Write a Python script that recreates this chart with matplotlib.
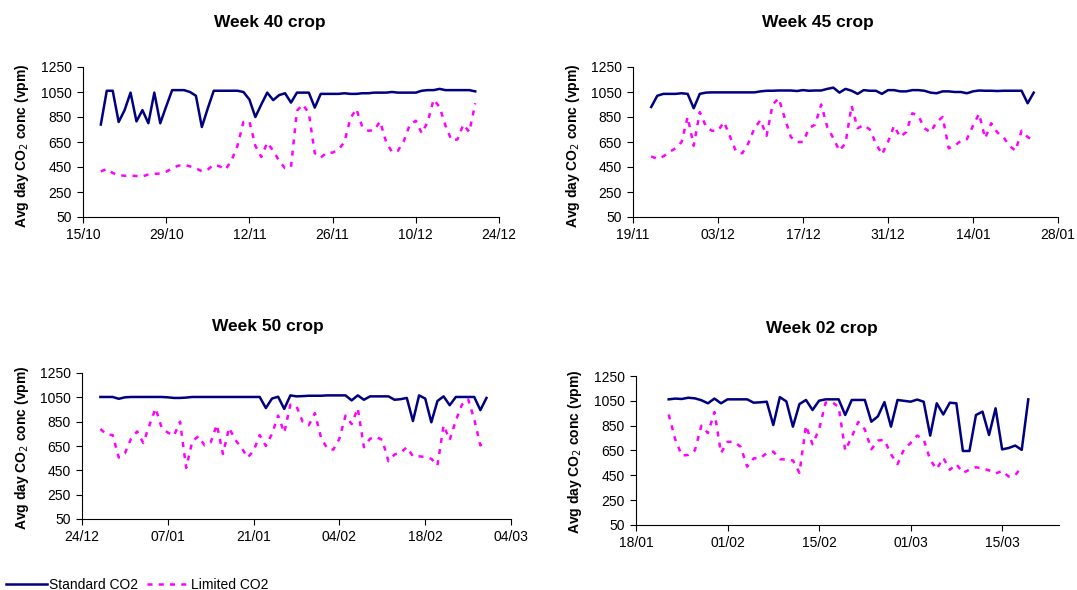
import numpy as np
import matplotlib
matplotlib.use("Agg")
import matplotlib.pyplot as plt
import matplotlib.dates as mdates

plt.rcParams['font.family'] = ['Liberation Sans', 'DejaVu Sans']

# ---- data (daily averages, vpm) ----
titles = ['Week 40 crop', 'Week 45 crop', 'Week 50 crop', 'Week 02 crop']
axis_start = ['2006-10-15', '2006-11-19', '2006-12-24', '2007-01-18']
first_day = ['2006-10-18', '2006-11-22', '2006-12-27', '2007-01-23']

std_w40 = [790, 1060, 1060, 810, 905, 1045, 815, 905,
           800, 1045, 800, 935, 1065, 1065, 1065, 1050,
           1020, 770, 920, 1060, 1060, 1060, 1060, 1060,
           1050, 990, 850, 950, 1045, 985, 1025, 1040,
           965, 1045, 1045, 1045, 925, 1035, 1035, 1035,
           1035, 1040, 1035, 1035, 1040, 1040, 1045, 1045,
           1045, 1050, 1045, 1045, 1045, 1045, 1060, 1065,
           1065, 1075, 1065, 1065, 1065, 1065, 1065, 1055]
lim_w40 = [415, 434, 402, 385, 380, 380, 378, 375,
           390, 395, 398, 412, 440, 460, 468, 455,
           440, 415, 430, 468, 455, 430, 505, 620,
           810, 815, 620, 530, 645, 580, 500, 440,
           450, 900, 950, 880, 560, 525, 565, 565,
           590, 650, 840, 915, 770, 740, 745, 815,
           650, 570, 580, 660, 790, 820, 720, 810,
           990, 930, 780, 665, 670, 790, 730, 960]

std_w45 = [930, 1020, 1035, 1035, 1035, 1040, 1035, 920,
           1035, 1045, 1047, 1047, 1047, 1047, 1047, 1047,
           1047, 1047, 1055, 1060, 1060, 1062, 1062, 1062,
           1058, 1065, 1060, 1062, 1062, 1075, 1085, 1045,
           1075, 1060, 1035, 1065, 1060, 1060, 1035, 1065,
           1065, 1055, 1055, 1065, 1065, 1060, 1045, 1040,
           1055, 1055, 1050, 1050, 1040, 1055, 1062, 1060,
           1060, 1058, 1060, 1060, 1060, 1060, 960, 1045]
lim_w45 = [535, 515, 535, 570, 600, 650, 850, 620,
           890, 776, 740, 740, 810, 690, 570, 560,
           640, 760, 825, 700, 950, 1000, 840, 690,
           650, 650, 760, 790, 950, 770, 680, 580,
           640, 940, 760, 786, 750, 640, 550, 650,
           780, 690, 730, 880, 860, 760, 727, 810,
           850, 600, 620, 660, 673, 780, 876, 680,
           800, 727, 690, 620, 580, 740, 690, 660]

std_w50 = [1053, 1053, 1053, 1038, 1050, 1053, 1053, 1053,
           1053, 1053, 1053, 1050, 1045, 1045, 1048, 1053,
           1053, 1053, 1053, 1053, 1053, 1053, 1053, 1053,
           1053, 1053, 1053, 962, 1040, 1055, 955, 1066,
           1058, 1060, 1063, 1063, 1063, 1066, 1066, 1066,
           1066, 1025, 1066, 1030, 1058, 1058, 1058, 1058,
           1030, 1035, 1045, 855, 1066, 1040, 845, 1020,
           1058, 985, 1053, 1053, 1053, 1053, 945, 1045]
lim_w50 = [790, 745, 740, 555, 590, 710, 770, 675,
           820, 960, 800, 760, 735, 850, 470, 690,
           730, 655, 680, 825, 585, 800, 700, 640,
           555, 610, 740, 650, 750, 900, 760, 990,
           976, 850, 820, 920, 720, 630, 620, 710,
           900, 830, 960, 640, 710, 725, 700, 525,
           580, 595, 640, 565, 565, 560, 545, 490,
           820, 700, 860, 990, 1035, 870, 655, 690]

std_w02 = [1062, 1068, 1065, 1075, 1070, 1055, 1030, 1068,
           1030, 1062, 1062, 1062, 1062, 1035, 1038, 1043,
           855, 1080, 1045, 842, 1024, 1057, 976, 1051,
           1062, 1062, 1062, 936, 1057, 1057, 1057, 882,
           925, 1040, 842, 1057, 1050, 1043, 1060, 1043,
           770, 1030, 940, 1035, 1030, 646, 646, 936,
           963, 775, 990, 659, 670, 690, 655, 1062]
lim_w02 = [940, 740, 610, 614, 650, 850, 790, 960,
           630, 720, 720, 680, 520, 587, 587, 630,
           641, 580, 577, 570, 470, 850, 700, 820,
           1035, 1040, 1000, 650, 760, 880, 820, 660,
           730, 735, 620, 540, 660, 710, 770, 740,
           574, 500, 590, 495, 540, 470, 495, 515,
           505, 490, 465, 485, 440, 450, 520]

standard = [std_w40, std_w45, std_w50, std_w02]
limited = [lim_w40, lim_w45, lim_w50, lim_w02]
y_ticks = [50, 250, 450, 650, 850, 1050, 1250]

# ---- layout (pixel boxes of the reference) ----
W, H = 1077, 590
boxes = [(83, 67, 499, 217), (633, 67, 1058, 217),
         (82, 373, 511, 519), (636, 376, 1059, 525)]
span_days = [70, 70, 70, 64.7]
title_xy = [(270, 22), (818, 22), (268, 327), (822, 329)]
ylab_xy = [(22, 146), (573, 146), (22, 448), (575, 452)]

NAVY = '#000080'
MAGENTA = '#FF00FF'

fig = plt.figure(figsize=(W / 100, H / 100), dpi=100)

for i in range(4):
    x0, y0, x1, y1 = boxes[i]
    ax = fig.add_axes([x0 / W, 1 - y1 / H, (x1 - x0) / W, (y1 - y0) / H])
    d0 = np.datetime64(first_day[i])
    days_s = d0 + np.arange(len(standard[i]))
    days_l = d0 + np.arange(len(limited[i]))
    ax.plot(days_s, standard[i], color=NAVY, lw=1.8, label='Standard CO2')
    ax.plot(days_l, limited[i], color=MAGENTA, lw=1.8, dashes=(2, 2.5),
            label='Limited CO2')

    start = np.datetime64(axis_start[i])
    ax.set_xlim(mdates.date2num(start),
                mdates.date2num(start) + span_days[i])
    n_ticks = int(span_days[i] // 14) + 1
    ax.set_xticks(start + np.arange(n_ticks) * 14)
    ax.xaxis.set_major_formatter(mdates.DateFormatter('%d/%m'))
    ax.set_ylim(50, 1250)
    ax.set_yticks(y_ticks)
    for s in ('top', 'right'):
        ax.spines[s].set_visible(False)
    ax.tick_params(direction='out', length=4, width=0.8, labelsize=10,
                   pad=4)

    fig.text(title_xy[i][0] / W, 1 - title_xy[i][1] / H, titles[i],
             ha='center', va='center', fontsize=12.5, fontweight='bold')
    fig.text(ylab_xy[i][0] / W, 1 - ylab_xy[i][1] / H,
             'Avg day CO$_2$ conc (vpm)', rotation=90, ha='center',
             va='center', fontsize=10, fontweight='bold')

handles, labels = ax.get_legend_handles_labels()
fig.legend(handles, labels, loc='lower left', bbox_to_anchor=(0.0, -0.012),
           ncol=2, frameon=False, fontsize=10, handlelength=3,
           handletextpad=0.15, columnspacing=0.6, borderaxespad=0.0)

fig.savefig('out.png', dpi=100)
